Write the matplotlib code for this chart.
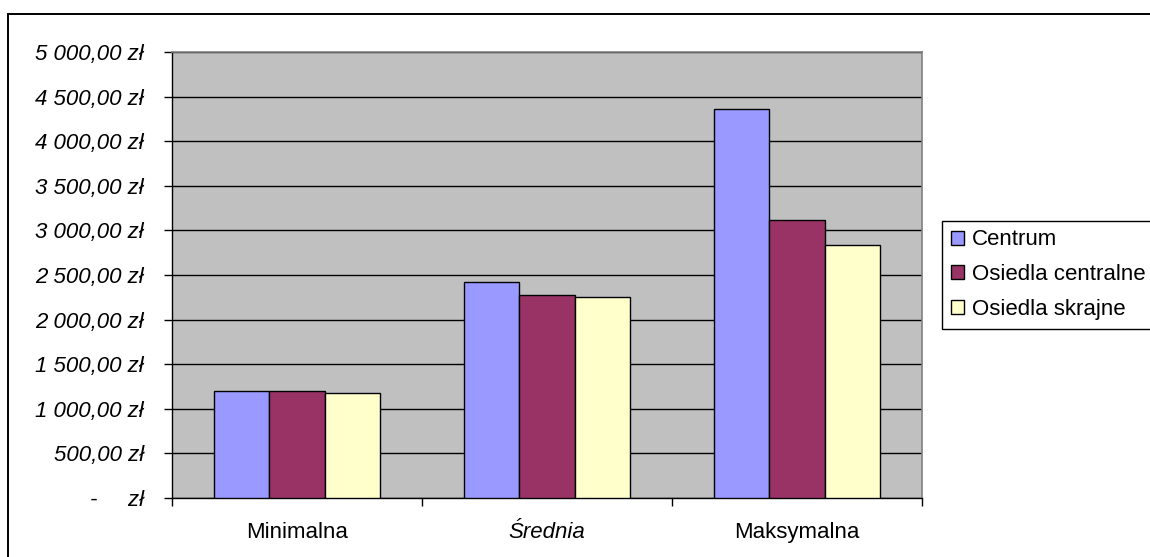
import numpy as np
import matplotlib
matplotlib.use("Agg")
import matplotlib.pyplot as plt
from matplotlib.patches import Patch, Rectangle
from matplotlib.ticker import FuncFormatter, MultipleLocator

plt.rcParams['font.family'] = ['Liberation Sans', 'DejaVu Sans']

# data
categories = ["Minimalna", "Średnia", "Maksymalna"]
series_names = ["Centrum", "Osiedla centralne", "Osiedla skrajne"]
centrum = [1200, 2418, 4357]
osiedla_centralne = [1200, 2279, 3120]
osiedla_skrajne = [1180, 2257, 2833]
colors = ["#9999FF", "#993366", "#FFFFCC"]

W, H = 1150, 557
fig = plt.figure(figsize=(W / 100, H / 100), dpi=100)
ax = fig.add_axes([172 / W, (H - 498) / H, (922 - 172) / W, (498 - 52) / H])
ax.set_facecolor("#C0C0C0")

# outer chart border (runs off the right and bottom edge)
fig.patches.append(Rectangle((8 / W, -0.1), 1.2, (H - 14) / H + 0.1,
                             transform=fig.transFigure, fill=False,
                             edgecolor="black", lw=1.4))

x = np.arange(len(categories))
bw = 1 / 4.5
all_series = [centrum, osiedla_centralne, osiedla_skrajne]
for i, vals in enumerate(all_series):
    ax.bar(x + (i - 1) * bw, vals, width=bw, color=colors[i],
           edgecolor="black", lw=1, zorder=3)

ax.set_xlim(-0.5, 2.5)
ax.set_ylim(0, 5000)
ax.yaxis.set_major_locator(MultipleLocator(500))
ax.set_axisbelow(True)
ax.yaxis.grid(True, color="black", lw=1)


def zl(v, pos):
    if v == 0:
        return "-     zł"
    return f"{v:,.2f}".replace(",", " ").replace(".", ",") + " zł"


ax.yaxis.set_major_formatter(FuncFormatter(zl))
ax.tick_params(axis="y", length=6, width=1, pad=14, labelsize=16)
for lab in ax.get_yticklabels():
    lab.set_fontstyle("italic")

ax.set_xticks(x)
ax.set_xticklabels(categories)
ax.tick_params(axis="x", which="major", length=0, pad=17, labelsize=16)
ax.get_xticklabels()[1].set_fontstyle("italic")
ax.set_xticks([-0.5, 0.5, 1.5, 2.5], minor=True)
ax.tick_params(axis="x", which="minor", length=6, width=1)

for side in ["left", "bottom"]:
    ax.spines[side].set_color("black")
    ax.spines[side].set_linewidth(1)
for side in ["top", "right"]:
    ax.spines[side].set_color("#808080")
    ax.spines[side].set_linewidth(1.2)

handles = [Patch(facecolor=c, edgecolor="black", lw=1) for c in colors]
leg = fig.legend(handles, series_names, loc="upper left",
                 bbox_to_anchor=(942 / W, (H - 220.5) / H),
                 fontsize=16, frameon=True, fancybox=False, shadow=False,
                 framealpha=1, edgecolor="black", borderpad=0.4,
                 handlelength=0.6, handleheight=0.6, handletextpad=0.35,
                 labelspacing=0.62, borderaxespad=0)
leg.get_frame().set_linewidth(1)

fig.savefig("out.png", dpi=100)
